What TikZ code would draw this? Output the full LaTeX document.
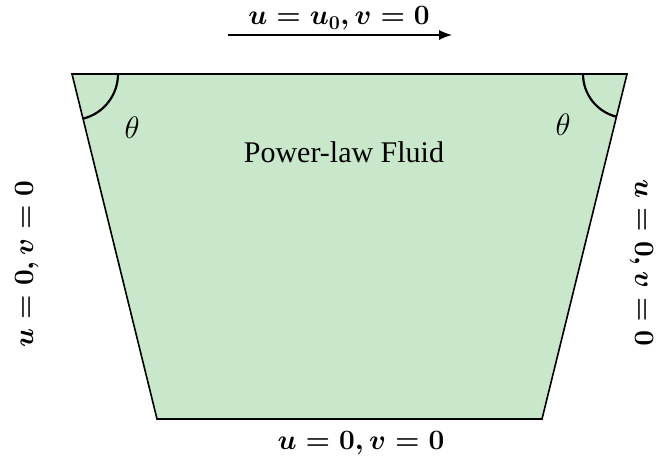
\RequirePackage{fix-cm}
\documentclass[tikz,border=0pt]{standalone}
\usepackage{fontspec}
\newfontfamily\timesfont{Liberation Serif}
\usetikzlibrary{arrows.meta}
\definecolor{fluidgreen}{RGB}{201,232,203}
\begin{document}
\begin{tikzpicture}[x=1pt,y=1pt,
  bclabel/.style={inner sep=0pt,font=\fontsize{28}{32}\selectfont\boldmath},
  anglabel/.style={inner sep=0pt,font=\fontsize{31}{35}\selectfont},
  edge/.style={line width=1.6pt},
  anglearc/.style={line width=2.2pt}]
\useasboundingbox (0,0) rectangle (658,462);
\coordinate (TL) at (72,388);
\coordinate (TR) at (627,388);
\coordinate (BR) at (542,43);
\coordinate (BL) at (157,43);
\fill[fluidgreen] (TL) -- (TR) -- (BR) -- (BL) -- cycle;
\draw[edge,line join=miter] (TL) -- (TR) -- (BR) -- (BL) -- cycle;
\draw[anglearc] ([shift={(0:46)}]TL) arc[start angle=0,end angle=-76.2,radius=46];
\draw[anglearc] ([shift={(180:44)}]TR) arc[start angle=180,end angle=256.2,radius=44];
\node[anglabel] (thl) at (132,334) {$\theta$};
\node[anglabel] (thr) at (563,337) {$\theta$};
\node[inner sep=0pt,anchor=base,font=\timesfont\fontsize{30}{34}\selectfont] (fluid) at (344,299) {Power-law Fluid};
\node[bclabel,anchor=base] (top) at (339,437) {$u=u_0, v=0$};
\coordinate (arrS) at (228,427);
\coordinate (arrE) at (452,427);
\draw[line width=1.2pt,-{Latex[length=13pt,width=10pt]}] (arrS) -- (arrE);
\node[bclabel,anchor=base] (bottom) at (361,12) {$u=0, v=0$};
\node[bclabel,anchor=base,rotate=90] (left) at (33,198) {$u=0, v=0$};
\node[bclabel,anchor=base,rotate=-90] (right) at (635,199) {$u=0, v=0$};
\end{tikzpicture}
\end{document}
